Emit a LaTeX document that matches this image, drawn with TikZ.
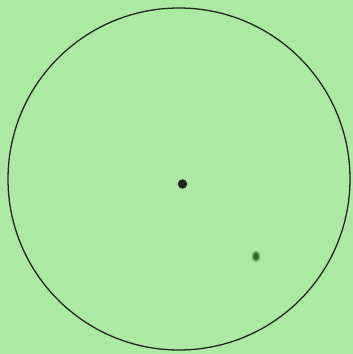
\documentclass[tikz,border=0pt]{standalone}
\definecolor{bg}{RGB}{172,234,164}
\definecolor{ink}{RGB}{35,38,30}
\definecolor{spot}{RGB}{55,95,40}
\begin{document}
\begin{tikzpicture}[x=1pt,y=1pt]
\fill[bg] (0,0) rectangle (353,354);
\useasboundingbox (0,0) rectangle (353,354);
\coordinate (c) at (179,175);
\draw[ink, line width=1.3pt] (c) circle[radius=171];
\node[circle, fill=ink, inner sep=0pt, minimum size=9.5pt] (centre) at (182.5,170) {};
\fill[spot, opacity=0.35] (256,97.5) ellipse[x radius=4.5, y radius=6];
\fill[spot, opacity=0.9] (256,97.5) ellipse[x radius=2.8, y radius=4];
\end{tikzpicture}
\end{document}
